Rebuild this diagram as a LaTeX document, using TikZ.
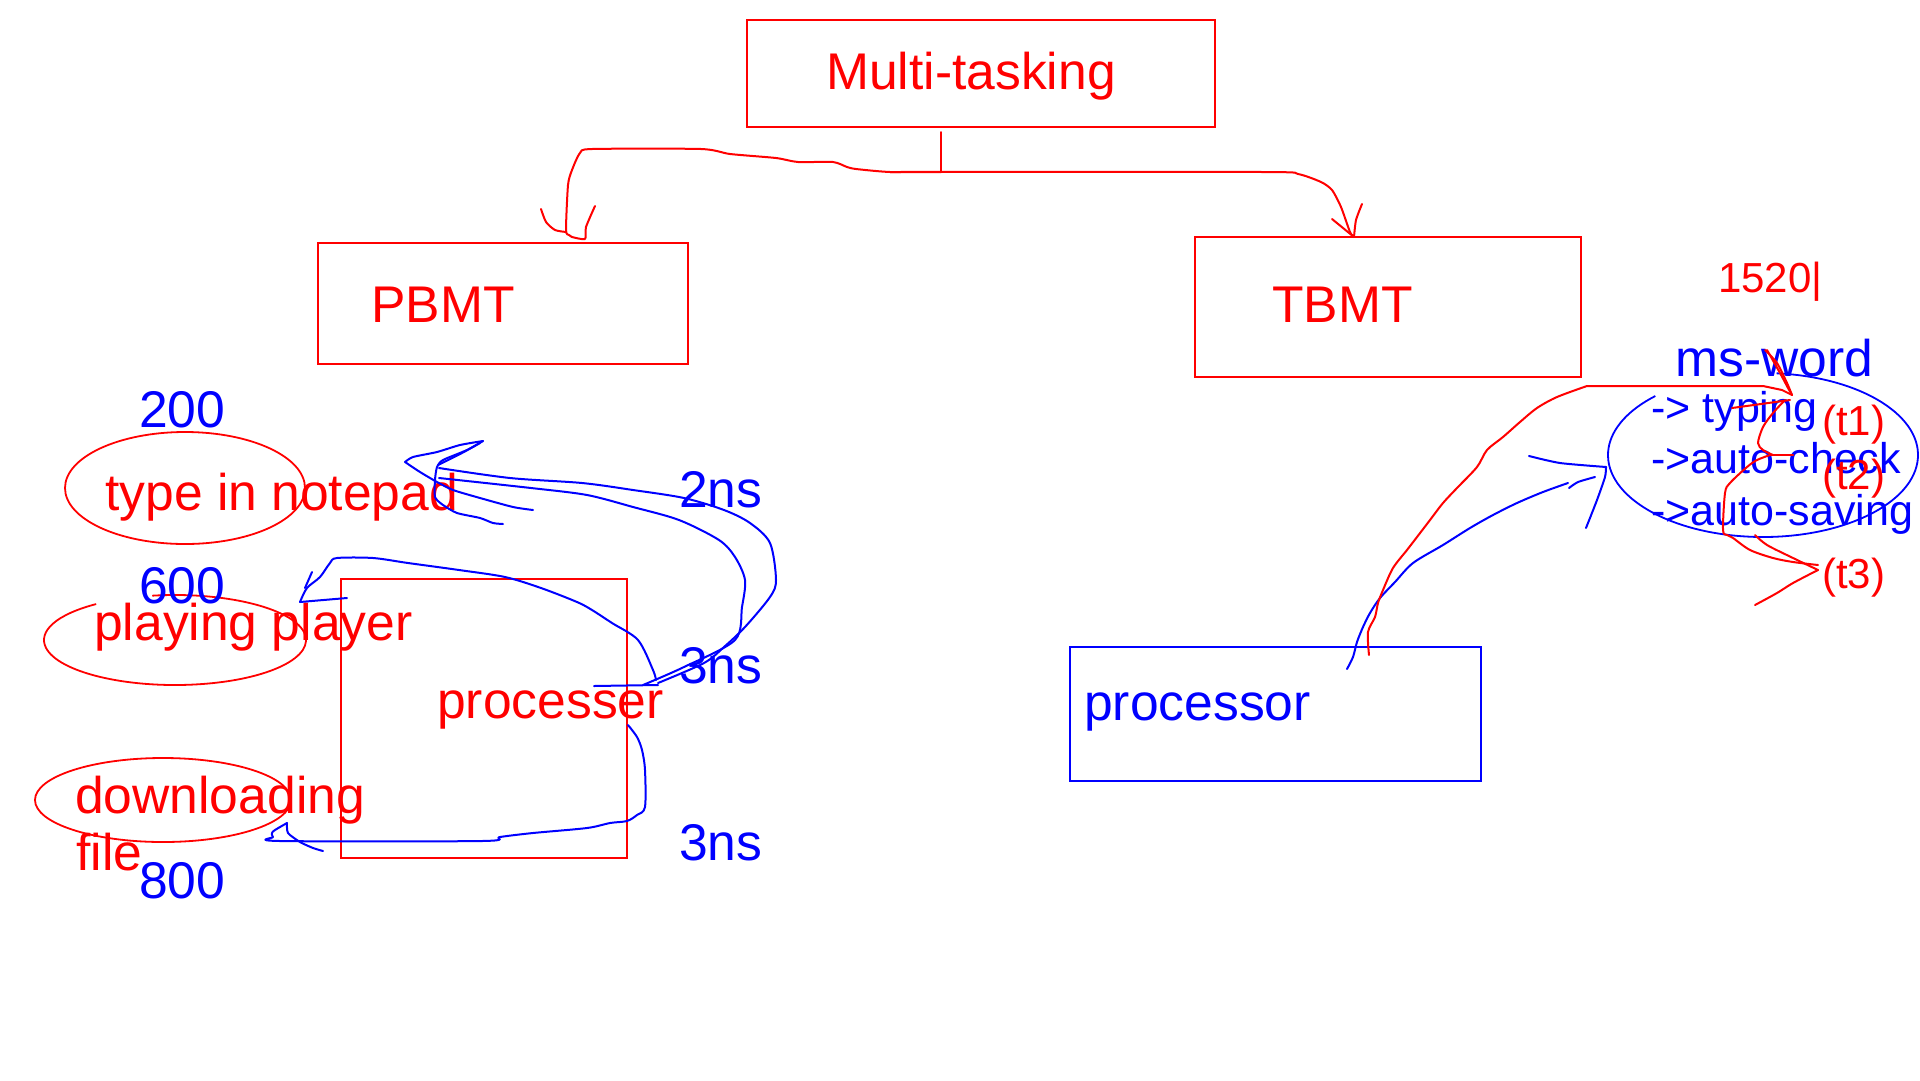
\documentclass[tikz,border=0pt]{standalone}
\usepackage{fontspec}
\setmainfont{Liberation Sans}
\begin{document}
\begin{tikzpicture}[x=1pt,y=-1pt,
  redbox/.style={draw=red,line width=2pt},
  bluebox/.style={draw=blue,line width=2pt},
  bigtxt/.style={inner sep=0pt,anchor=base west,font=\fontsize{51.6}{60}\selectfont},
  midtxt/.style={inner sep=0pt,anchor=base west,font=\fontsize{43}{50}\selectfont},
  smalltxt/.style={inner sep=0pt,anchor=base west,font=\fontsize{42}{50}\selectfont},
  rpen/.style={draw=red,line width=2pt,line cap=round,line join=round},
  bpen/.style={draw=blue,line width=2pt,line cap=round,line join=round},
  ring/.style={line width=1.8pt}]
\useasboundingbox (0,0) rectangle (1920,1080);

% boxes
\draw[redbox] (747,20) rectangle (1215,127);
\draw[redbox] (318,243) rectangle (688,364);
\draw[redbox] (1195,237) rectangle (1581,377);
\draw[redbox] (341,579) rectangle (627,858);
\draw[bluebox] (1070,647) rectangle (1481,781);

% ellipses
\draw[red,ring] (185,488) ellipse [x radius=120,y radius=56];
\draw[red,ring] (175,640) ++(-100:131 and 45) arc[start angle=-100,end angle=233,x radius=131,y radius=45];
\draw[red,ring] (163,800) ellipse [x radius=128,y radius=42];
\draw[blue,ring] (1763,455) ++(-85:155 and 82) arc[start angle=-85,end angle=226,x radius=155,y radius=82];

% texts
\node[bigtxt,red] (mt) at (826,89) {Multi-tasking};
\node[bigtxt,red] (pb) at (371,322) {PBMT};
\node[bigtxt,red] (tb) at (1272,322) {TBMT};
\node[bigtxt,blue] (pr) at (1084,720) {processor};
\node[bigtxt,red] (pc) at (437,718) {processer};
\node[bigtxt,red] (tn) at (105,510) {type in notepad};
\node[bigtxt,red] (pp) at (94,640) {playing player};
\node[bigtxt,red] (dl) at (75,813) {downloading};
\node[bigtxt,red] (fl) at (76,870) {file};
\node[bigtxt,blue] (n200) at (139,427) {200};
\node[bigtxt,blue] (n600) at (139,603) {600};
\node[bigtxt,blue] (n800) at (139,898) {800};
\node[bigtxt,blue] (ns2) at (679,507) {2ns};
\node[bigtxt,blue] (ns3a) at (679,683) {3ns};
\node[bigtxt,blue] (ns3b) at (679,860) {3ns};
\node[smalltxt,red] (num) at (1718,292) {1520|};
\node[bigtxt,blue] (msw) at (1675,376) {ms-word};
\node[midtxt,blue] (ty) at (1651,422) {-> typing};
\node[midtxt,blue] (ac) at (1651,473) {->auto-check};
\node[midtxt,blue] (as) at (1651,525) {->auto-saving};
\node[smalltxt,red] (t1) at (1822,435) {(t1)};
\node[smalltxt,red] (t2) at (1822,489) {(t2)};
\node[smalltxt,red] (t3) at (1822,588) {(t3)};

% tree connector
\draw[rpen] (941,132) -- (941,172);
\draw[rpen] plot[smooth,tension=0.4] coordinates {(890,172) (1263,172) (1298,174) (1321,182) (1332,190) (1341,207) (1350,232) (1354,237)};
\draw[rpen] (1332,219) -- (1354,237);
\draw[rpen] plot[smooth,tension=0.4] coordinates {(1362,204) (1356,220) (1354,237)};
\draw[rpen] plot[smooth,tension=0.4] coordinates {(941,172) (890,172) (856,169) (847,167) (833,162) (798,162) (776,158) (730,154) (701,149) (592,149) (580,153) (572,170) (568,185) (566,230) (569,235) (572,237)};
\draw[rpen] plot[smooth,tension=0.4] coordinates {(541,209) (546,222) (555,230) (566,232)};
\draw[rpen] plot[smooth,tension=0.4] coordinates {(595,206) (586,227) (585,239) (572,237)};

% blue strokes, left
\draw[bpen] (594,686) -- (658,685);
\draw[bpen] plot[smooth,tension=0.5] coordinates {(439,468) (510,478) (582,483) (633,490) (684,498) (724,510) (750,523) (770,543) (776,580) (770,597) (745,627) (724,647) (704,663) (658,683)};
\draw[bpen] plot[smooth,tension=0.5] coordinates {(439,478) (531,488) (587,495) (633,507) (679,520) (719,540) (735,557) (745,580) (742,607) (735,640) (684,667) (643,685)};
\draw[bpen] plot[smooth,tension=0.4] coordinates {(405,462) (413,457) (437,452) (460,445) (483,441)};
\draw[bpen] plot[smooth,tension=0.4] coordinates {(405,462) (420,472) (437,482) (453,490) (480,498) (513,507) (533,510)};
\draw[bpen] plot[smooth,tension=0.4] coordinates {(483,441) (467,450) (443,460) (437,467) (435,480) (435,497) (443,505) (457,513) (480,518) (493,523) (503,524)};
\draw[bpen] plot[smooth,tension=0.4] coordinates {(438,465) (462,453) (480,443)};

\draw[bpen] plot[smooth,tension=0.5] coordinates {(656,680) (653,670) (638,640) (612,623) (592,610) (577,602) (541,588) (505,577) (459,570) (408,563) (373,558) (337,558) (330,563) (320,577) (307,588) (300,602)};
\draw[bpen] (300,602) -- (347,598);
\draw[bpen] (312,572) -- (305,588);

\draw[bpen] plot[smooth,tension=0.5] coordinates {(628,725) (637,737) (642,750) (645,770) (645,807) (637,815) (627,821) (610,823) (587,828) (533,833) (500,837) (482,841) (280,841) (273,837) (272,833) (275,830) (287,823)};
\draw[bpen] plot[smooth,tension=0.4] coordinates {(287,823) (288,833) (300,842) (313,848) (323,851)};

% right side
\draw[bpen] plot[smooth,tension=0.5] coordinates {(1347,669) (1353,657) (1357,642) (1363,627) (1370,613) (1380,598) (1395,582) (1413,563) (1443,545) (1470,528) (1493,515) (1517,503) (1543,492) (1568,483)};
\draw[bpen] plot[smooth,tension=0.4] coordinates {(1569,488) (1578,482) (1595,477)};
\draw[bpen] plot[smooth,tension=0.4] coordinates {(1529,456) (1560,463) (1606,467)};
\draw[bpen] plot[smooth,tension=0.4] coordinates {(1606,467) (1605,477) (1597,500) (1586,528)};

\draw[rpen] plot[smooth,tension=0.5] coordinates {(1369,655) (1368,632) (1375,617) (1378,603) (1383,590) (1393,568) (1407,550) (1417,537) (1430,520) (1443,503) (1457,488) (1477,467) (1487,450) (1503,437) (1520,422) (1537,408) (1557,397) (1587,386)};
\draw[rpen] (1587,386) -- (1763,386) -- (1782,390) -- (1792,395);
\draw[rpen] plot[smooth,tension=0.4] coordinates {(1765,350) (1777,363) (1787,383) (1792,395)};
\draw[rpen] plot[smooth,tension=0.4] coordinates {(1767,350) (1780,373) (1788,388) (1792,395)};
\draw[rpen] (1790,400) -- (1732,408);
\draw[rpen] plot[smooth,tension=0.5] coordinates {(1785,400) (1773,413) (1763,427) (1758,443) (1763,450) (1773,455)};
\draw[rpen] (1770,455) -- (1793,455);
\draw[rpen] plot[smooth,tension=0.5] coordinates {(1770,455) (1757,460) (1747,467) (1730,483) (1725,493) (1723,530) (1727,535) (1733,538) (1750,550) (1773,558) (1793,562) (1818,565)};
\draw[rpen] plot[smooth,tension=0.5] coordinates {(1755,535) (1767,545) (1793,558) (1818,570)};
\draw[rpen] plot[smooth,tension=0.5] coordinates {(1818,570) (1793,583) (1777,593) (1755,605)};
\end{tikzpicture}
\end{document}
